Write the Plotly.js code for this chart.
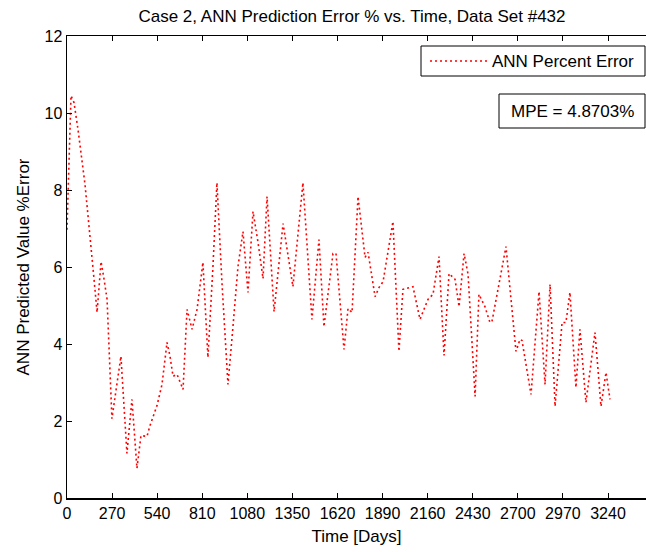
<!DOCTYPE html>
<html>
<head>
<meta charset="utf-8">
<script src="https://cdn.plot.ly/plotly-3.0.1.min.js"></script>
<style>html,body{margin:0;padding:0;background:#fff;}#chart{width:646px;height:552px;}</style>
</head>
<body>
<div id="chart"></div>
<script>
const days = [
  0, 24, 42, 66, 108, 132, 162, 180, 204, 222,
  240, 269, 323, 359, 389, 419, 443, 479, 497, 539,
  569, 599, 617, 635, 659, 695, 719, 749, 779, 814,
  844, 874, 898, 928, 964, 994, 1024, 1054, 1084, 1114,
  1144, 1174, 1198, 1240, 1294, 1353, 1413, 1467, 1509, 1539,
  1593, 1611, 1659, 1683, 1707, 1743, 1785, 1803, 1845, 1869,
  1893, 1952, 1988, 2012, 2072, 2114, 2162, 2192, 2228, 2258,
  2288, 2324, 2348, 2378, 2402, 2444, 2467, 2503, 2533, 2545,
  2629, 2689, 2713, 2725, 2779, 2827, 2863, 2893, 2923, 2965,
  2988, 3012, 3048, 3072, 3108, 3162, 3198, 3228, 3252
];
const pctError = [
  6.97, 10.45, 10.27, 9.57, 8.14, 7.10, 5.68, 4.82, 6.14, 5.68,
  5.16, 2.06, 3.68, 1.16, 2.56, 0.77, 1.62, 1.60, 1.88, 2.40,
  2.95, 4.04, 3.68, 3.16, 3.21, 2.82, 4.90, 4.38, 4.90, 6.12,
  3.65, 6.01, 8.19, 5.60, 2.95, 4.45, 6.01, 6.92, 5.34, 7.44,
  6.64, 5.70, 7.83, 4.84, 7.13, 5.49, 8.19, 4.64, 6.71, 4.45,
  6.35, 6.35, 3.86, 4.92, 4.82, 7.83, 6.25, 6.38, 5.23, 5.47,
  5.62, 7.18, 3.81, 5.42, 5.49, 4.64, 5.16, 5.29, 6.27, 3.70,
  5.83, 5.68, 4.97, 6.35, 5.81, 2.64, 5.29, 4.97, 4.56, 4.58,
  6.53, 3.81, 4.12, 4.09, 2.69, 5.36, 2.95, 5.55, 2.38, 4.56,
  4.56, 5.34, 2.87, 4.38, 2.48, 4.30, 2.38, 3.26, 2.56
];
const xTicks = [0, 270, 540, 810, 1080, 1350, 1620, 1890, 2160, 2430, 2700, 2970, 3240];
const yTicks = [0, 2, 4, 6, 8, 10, 12];
const seriesName = 'ANN Percent Error';
const mpeText = 'MPE = 4.8703%';
const titleText = 'Case 2, ANN Prediction Error % vs. Time, Data Set #432';
const xTitle = 'Time [Days]';
const yTitle = 'ANN Predicted Value %Error';

const W = 646, H = 552;
const M = {l: 67, r: 0, t: 36, b: 54};
const plotW = W - M.l - M.r, plotH = H - M.t - M.b;
const px = x => (x - M.l) / plotW;           // pixel -> paper x
const py = y => (H - M.b - y) / plotH;        // pixel -> paper y
const FONT = 'Liberation Sans, Arial, sans-serif';
const RED = '#ff0000';
const DOTS = '2px,3px';

const trace = {
  x: days, y: pctError, type: 'scatter', mode: 'lines', name: seriesName,
  line: {color: RED, width: 1.6, dash: DOTS}, showlegend: false
};

const layout = {
  width: W, height: H,
  margin: M,
  paper_bgcolor: '#fff', plot_bgcolor: '#fff',
  font: {family: FONT, size: 17, color: '#000'},
  title: {text: titleText, font: {family: FONT, size: 17, color: '#000'},
          xref: 'container', x: 352 / W, xanchor: 'center',
          yref: 'container', y: 1 - 16 / H, yanchor: 'middle'},
  xaxis: {
    range: [0, 3240 * plotW / 541], tickvals: xTicks, ticktext: xTicks.map(String),
    ticks: 'inside', ticklen: 5, tickwidth: 1, tickcolor: '#000',
    showline: true, linecolor: '#000', linewidth: 1.5, mirror: 'ticks',
    showgrid: false, zeroline: false,
    tickfont: {family: FONT, size: 16, color: '#000'},
    title: {text: xTitle, font: {family: FONT, size: 17, color: '#000'}, standoff: 9}
  },
  yaxis: {
    range: [0, 12], tickvals: yTicks, ticktext: yTicks.map(String),
    ticks: 'inside', ticklen: 5, tickwidth: 1, tickcolor: '#000',
    showline: true, linecolor: '#000', linewidth: 1.5, mirror: false,
    showgrid: false, zeroline: false,
    tickfont: {family: FONT, size: 16, color: '#000'},
    title: {text: yTitle, font: {family: FONT, size: 17, color: '#000'}, standoff: 10}
  },
  shapes: [
    {type: 'rect', xref: 'paper', yref: 'paper', x0: px(421), x1: px(645), y0: py(76), y1: py(46),
     line: {color: '#000', width: 1}, fillcolor: '#fff', layer: 'above'},
    {type: 'line', xref: 'paper', yref: 'paper', x0: px(430), x1: px(488), y0: py(61), y1: py(61),
     line: {color: RED, width: 1.6, dash: DOTS}, layer: 'above'},
    {type: 'rect', xref: 'paper', yref: 'paper', x0: px(499), x1: px(645), y0: py(128), y1: py(94),
     line: {color: '#000', width: 1}, fillcolor: '#fff', layer: 'above'}
  ],
  annotations: [
    {text: seriesName, xref: 'paper', yref: 'paper', x: px(490), y: py(61), xanchor: 'left', yanchor: 'middle',
     showarrow: false, font: {family: FONT, size: 17, color: '#000'}},
    {text: mpeText, xref: 'paper', yref: 'paper', x: px(572), y: py(111), xanchor: 'center', yanchor: 'middle',
     showarrow: false, font: {family: FONT, size: 17, color: '#000'}}
  ]
};

Plotly.newPlot('chart', [trace], layout, {displayModeBar: false, staticPlot: true});
</script>
</body>
</html>
